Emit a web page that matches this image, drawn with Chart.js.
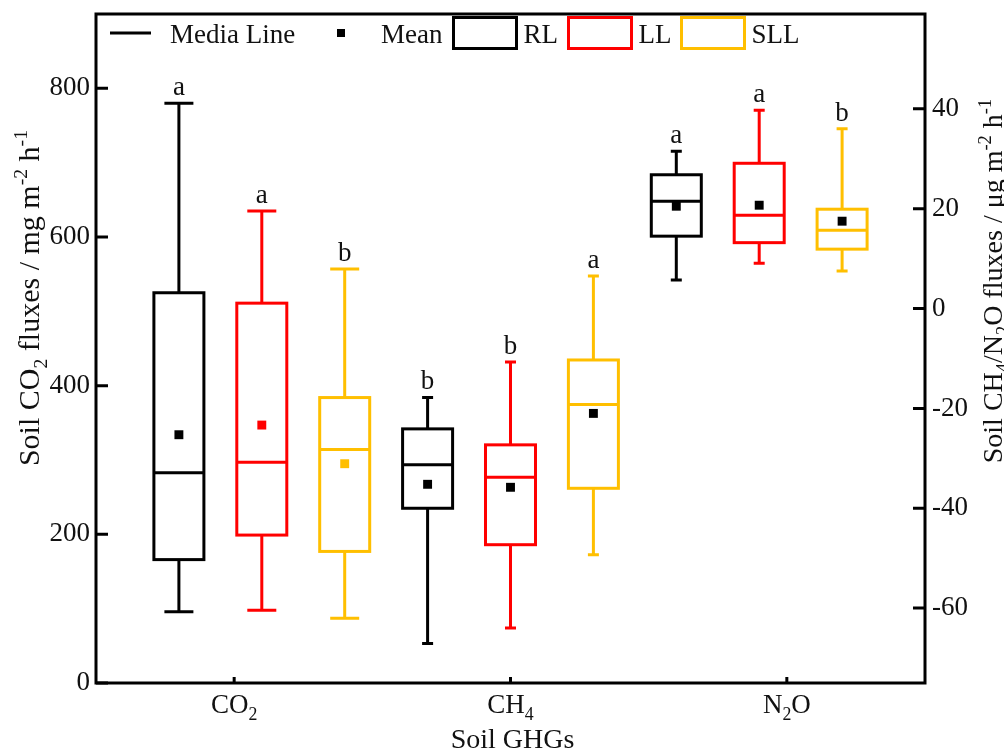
<!DOCTYPE html>
<html>
<head>
<meta charset="utf-8">
<script src="https://cdn.jsdelivr.net/npm/chart.js@4.4.1/dist/chart.umd.min.js"></script>
<style>
  html, body { margin: 0; padding: 0; background: #fff; }
</style>
</head>
<body>
<canvas id="chart" width="1004" height="751"></canvas>
<script>
const gases = ["CO2", "CH4", "N2O"];
const sites = ["RL", "LL", "SLL"];
const gasAxis = ["y", "y2", "y2"];
const leftTicks = [0, 200, 400, 600, 800];
const rightTicks = [-60, -40, -20, 0, 20, 40];

// box stats per site, one value per gas (CO2 mg, CH4 / N2O ug)
const rlMin = [96, -67.1, 5.7];
const rlQ1 = [166, -40, 14.5];
const rlMedian = [283, -31.3, 21.5];
const rlQ3 = [525, -24.1, 26.8];
const rlMax = [780, -17.8, 31.5];
const rlMean = [334, -35.2, 20.5];
const rlLetters = ["a", "b", "a"];

const llMin = [98, -64, 9.1];
const llQ1 = [199, -47.3, 13.2];
const llMedian = [297, -33.8, 18.7];
const llQ3 = [511, -27.3, 29.1];
const llMax = [635, -10.7, 39.7];
const llMean = [347, -35.8, 20.7];
const llLetters = ["a", "b", "a"];

const sllMin = [87, -49.3, 7.5];
const sllQ1 = [177, -36, 11.9];
const sllMedian = [314, -19.2, 15.7];
const sllQ3 = [384, -10.3, 19.9];
const sllMax = [557, 6.5, 36];
const sllMean = [295, -21, 17.5];
const sllLetters = ["b", "a", "b"];

const siteColors = ["#000000", "#ff0000", "#ffbf00"];
const FONT = "'Liberation Serif', 'Times New Roman', serif";

const stats = [
  { min: rlMin, q1: rlQ1, med: rlMedian, q3: rlQ3, max: rlMax, mean: rlMean, letters: rlLetters },
  { min: llMin, q1: llQ1, med: llMedian, q3: llQ3, max: llMax, mean: llMean, letters: llLetters },
  { min: sllMin, q1: sllQ1, med: sllMedian, q3: sllQ3, max: sllMax, mean: sllMean, letters: sllLetters },
];

// nine boxes evenly spaced on the x scale
function boxPos(g, s) {
  return 0.8 + 0.3 * (3 * g + s);
}

function meanColor(g, s) {
  return g === 0 ? siteColors[s] : "#000000";
}

function fontStr(size) {
  return size + "px " + FONT;
}

function richWidth(ctx, parts, size) {
  let w = 0;
  parts.forEach(([t, k]) => {
    ctx.font = fontStr(k ? size * 0.66 : size);
    w += ctx.measureText(t).width;
  });
  return w;
}

function drawRich(ctx, parts, x, y, size) {
  let cx = x;
  parts.forEach(([t, k]) => {
    ctx.font = fontStr(k ? size * 0.66 : size);
    const dy = k === "sub" ? size * 0.25 : k === "sup" ? -size * 0.4 : 0;
    ctx.fillText(t, cx, y + dy);
    cx += ctx.measureText(t).width;
  });
}

const gasLabels = [
  [["CO", ""], ["2", "sub"]],
  [["CH", ""], ["4", "sub"]],
  [["N", ""], ["2", "sub"], ["O", ""]],
];
const leftTitle = [["Soil CO", ""], ["2", "sub"], [" fluxes / mg m", ""], ["-2", "sup"], [" h", ""], ["-1", "sup"]];
const rightTitle = [["Soil CH", ""], ["4", "sub"], ["/N", ""], ["2", "sub"], ["O fluxes / \u03bcg m", ""], ["-2", "sup"], [" h", ""], ["-1", "sup"]];

const boxPlugin = {
  id: "boxPlot",
  beforeDatasetsDraw(chart) {
    const ctx = chart.ctx;
    const xs = chart.scales.x;
    const half = 25;
    const capHalf = [14.5, 5.5, 5.5];
    ctx.save();
    ctx.lineWidth = 3;
    gases.forEach((gas, g) => {
      const ys = chart.scales[gasAxis[g]];
      stats.forEach((st, s) => {
        const cx = xs.getPixelForValue(boxPos(g, s));
        const pMin = ys.getPixelForValue(st.min[g]);
        const pQ1 = ys.getPixelForValue(st.q1[g]);
        const pMed = ys.getPixelForValue(st.med[g]);
        const pQ3 = ys.getPixelForValue(st.q3[g]);
        const pMax = ys.getPixelForValue(st.max[g]);
        ctx.strokeStyle = siteColors[s];
        ctx.beginPath();
        ctx.moveTo(cx, pQ3); ctx.lineTo(cx, pMax);
        ctx.moveTo(cx - capHalf[g], pMax); ctx.lineTo(cx + capHalf[g], pMax);
        ctx.moveTo(cx, pQ1); ctx.lineTo(cx, pMin);
        ctx.moveTo(cx - capHalf[g], pMin); ctx.lineTo(cx + capHalf[g], pMin);
        ctx.moveTo(cx - half, pMed); ctx.lineTo(cx + half, pMed);
        ctx.stroke();
        ctx.strokeRect(cx - half, pQ3, half * 2, pQ1 - pQ3);
        ctx.fillStyle = "#111";
        ctx.font = fontStr(27);
        ctx.textAlign = "center";
        ctx.textBaseline = "alphabetic";
        ctx.fillText(st.letters[g], cx, pMax - 8);
      });
    });
    ctx.restore();
  },
  afterDraw(chart) {
    const ctx = chart.ctx;
    const ca = chart.chartArea;
    const xs = chart.scales.x;
    ctx.save();
    ctx.strokeStyle = "#000";
    ctx.lineWidth = 3;
    ctx.strokeRect(ca.left, ca.top, ca.right - ca.left, ca.bottom - ca.top);

    // inner ticks
    ctx.beginPath();
    chart.scales.y.ticks.forEach((t) => {
      const p = chart.scales.y.getPixelForValue(t.value);
      ctx.moveTo(ca.left, p); ctx.lineTo(ca.left + 12, p);
    });
    chart.scales.y2.ticks.forEach((t) => {
      const p = chart.scales.y2.getPixelForValue(t.value);
      ctx.moveTo(ca.right, p); ctx.lineTo(ca.right - 12, p);
    });
    gases.forEach((gas, g) => {
      const p = xs.getPixelForValue(g + 1);
      ctx.moveTo(p, ca.bottom); ctx.lineTo(p, ca.bottom - 6);
    });
    ctx.stroke();

    ctx.fillStyle = "#111";
    ctx.textAlign = "left";
    ctx.textBaseline = "alphabetic";

    // category labels
    gasLabels.forEach((parts, g) => {
      const p = xs.getPixelForValue(g + 1);
      const w = richWidth(ctx, parts, 27);
      drawRich(ctx, parts, p - w / 2, 713, 27);
    });

    // axis titles
    ctx.font = fontStr(28);
    ctx.textAlign = "center";
    ctx.fillText("Soil GHGs", (ca.left + ca.right) / 2 + 2, 748);
    ctx.textAlign = "left";

    let w = richWidth(ctx, leftTitle, 30);
    ctx.save();
    ctx.translate(39, 298);
    ctx.rotate(-Math.PI / 2);
    drawRich(ctx, leftTitle, -w / 2, 0, 30);
    ctx.restore();

    w = richWidth(ctx, rightTitle, 28);
    ctx.save();
    ctx.translate(1002, 281);
    ctx.rotate(-Math.PI / 2);
    drawRich(ctx, rightTitle, -w / 2, 0, 28);
    ctx.restore();

    // legend
    ctx.lineWidth = 3;
    ctx.strokeStyle = "#000";
    ctx.beginPath();
    ctx.moveTo(110, 33); ctx.lineTo(151, 33);
    ctx.stroke();
    ctx.fillStyle = "#000";
    ctx.fillRect(337, 29, 8, 8);
    ctx.fillStyle = "#111";
    ctx.font = fontStr(27);
    ctx.fillText("Media Line", 170, 43);
    ctx.fillText("Mean", 381, 43);
    const legendBoxes = [453.5, 568.5, 681.5];
    sites.forEach((site, s) => {
      ctx.strokeStyle = siteColors[s];
      ctx.strokeRect(legendBoxes[s], 17.5, 63, 31);
      ctx.fillStyle = "#111";
      ctx.fillText(site, legendBoxes[s] + 70, 43);
    });
    ctx.restore();
  },
};

const meanCO2 = sites.map((site, s) => ({ x: boxPos(0, s), y: stats[s].mean[0] }));
const meanOther = [];
const meanOtherColors = [];
[1, 2].forEach((g) => {
  sites.forEach((site, s) => {
    meanOther.push({ x: boxPos(g, s), y: stats[s].mean[g] });
    meanOtherColors.push(meanColor(g, s));
  });
});

const tickFont = { family: FONT, size: 27, lineHeight: 0.2 };

new Chart(document.getElementById("chart"), {
  type: "scatter",
  data: {
    datasets: [
      {
        label: "Mean CO2",
        data: meanCO2,
        yAxisID: "y",
        pointStyle: "rect",
        pointRadius: 6.3,
        pointBorderWidth: 0,
        pointBackgroundColor: sites.map((site, s) => meanColor(0, s)),
      },
      {
        label: "Mean CH4/N2O",
        data: meanOther,
        yAxisID: "y2",
        pointStyle: "rect",
        pointRadius: 6.3,
        pointBorderWidth: 0,
        pointBackgroundColor: meanOtherColors,
      },
    ],
  },
  options: {
    responsive: false,
    animation: false,
    devicePixelRatio: 1,
    layout: { padding: { top: 14, left: 0, right: 0, bottom: 0 } },
    plugins: { legend: { display: false }, tooltip: { enabled: false } },
    scales: {
      x: {
        type: "linear",
        min: 0.5,
        max: 3.5,
        grid: { display: false, drawTicks: false },
        border: { display: false },
        ticks: { display: false },
        afterFit: (scale) => { scale.height = 68; },
      },
      y: {
        position: "left",
        min: 0,
        max: 900,
        grid: { display: false, drawTicks: false },
        border: { display: false },
        ticks: { font: tickFont, color: "#111", padding: 6 },
        afterBuildTicks: (scale) => { scale.ticks = leftTicks.map((v) => ({ value: v })); },
        afterFit: (scale) => { scale.width = 96; },
      },
      y2: {
        position: "right",
        min: -75,
        max: 59,
        grid: { display: false, drawTicks: false },
        border: { display: false },
        ticks: { font: tickFont, color: "#111", padding: 7 },
        afterBuildTicks: (scale) => { scale.ticks = rightTicks.map((v) => ({ value: v })); },
        afterFit: (scale) => { scale.width = 79; },
      },
    },
  },
  plugins: [boxPlugin],
});
</script>
</body>
</html>
